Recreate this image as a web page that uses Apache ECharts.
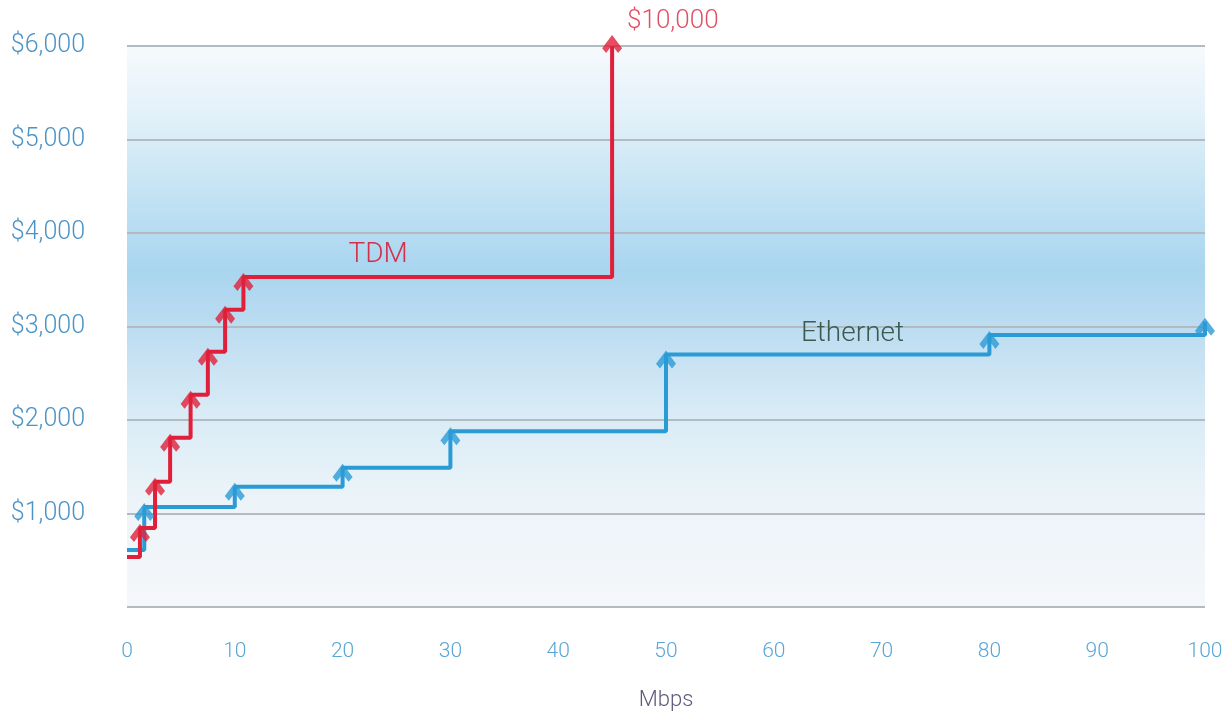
<!DOCTYPE html>
<html>
<head>
<meta charset="utf-8">
<script src="https://cdn.jsdelivr.net/npm/echarts@6/dist/echarts.min.js"></script>
<style>
html,body{margin:0;padding:0;background:#ffffff;}
#chart{width:1229px;height:717px;}
</style>
</head>
<body>
<div id="chart"></div>
<script>
// ---- data ----
const tdmMbps  = [0, 1.2, 2.6, 4.0, 5.9, 7.5, 9.1, 10.8, 45];
const tdmCost  = [535, 845, 1340, 1810, 2270, 2730, 3180, 3530, 6000];
const ethMbps  = [0, 1.6, 10, 20, 30, 50, 80, 100];
const ethCost  = [610, 1070, 1285, 1490, 1880, 2700, 2910, 3050];
const yTicks   = [0, 1000, 2000, 3000, 4000, 5000, 6000];
const xTicks   = [0, 10, 20, 30, 40, 50, 60, 70, 80, 90, 100];
const tdmTopLabel = '$10,000';
const tdmName = 'TDM';
const ethName = 'Ethernet';
const tdmNamePos = [23.3, 3760];
const ethNamePos = [67.3, 2925];

const FONT = 'Roboto, "Liberation Sans", sans-serif';
const RED = '#e0203a';
const BLUE = '#2b9bd6';
const ARROW = 'path://M10,0 L20,11 L16,15 L10,8.5 L4,15 L0,11 Z';

const zip = (xs, ys) => xs.map((x, i) => [x, ys[i]]);
const tdmPts = zip(tdmMbps, tdmCost);
const ethPts = zip(ethMbps, ethCost);
const tdmTop = tdmPts[tdmPts.length - 1];

const chart = echarts.init(document.getElementById('chart'));
chart.setOption({
  animation: false,
  grid: {
    left: 127, right: 24, top: 46, bottom: 110,
    show: true, borderWidth: 0,
    backgroundColor: new echarts.graphic.LinearGradient(0, 0, 0, 1, [
      {offset: 0, color: '#f6fafd'},
      {offset: 0.12, color: '#e3f1f9'},
      {offset: 0.28, color: '#c0e1f3'},
      {offset: 0.40, color: '#a9d5ef'},
      {offset: 0.50, color: '#bcdcf1'},
      {offset: 0.65, color: '#d8ebf6'},
      {offset: 0.82, color: '#edf4f9'},
      {offset: 1, color: '#f5f7f9'}
    ])
  },
  xAxis: {
    type: 'value', min: xTicks[0], max: xTicks[xTicks.length - 1], interval: 10,
    axisLine: {show: false}, axisTick: {show: false}, splitLine: {show: false},
    axisLabel: {color: '#5aa6d6', fontSize: 21, fontFamily: FONT, fontWeight: 300, margin: 34},
    name: 'Mbps', nameLocation: 'middle', nameGap: 82,
    nameTextStyle: {color: '#5c5a7c', fontSize: 22, fontFamily: FONT, fontWeight: 300}
  },
  yAxis: {
    type: 'value', min: yTicks[0], max: yTicks[yTicks.length - 1], interval: 1000,
    axisLine: {show: false}, axisTick: {show: false},
    splitLine: {show: true, lineStyle: {color: '#b3bbc0', width: 2}},
    axisLabel: {
      color: '#4a93c6', fontSize: 25, fontFamily: FONT, fontWeight: 300, margin: 42,
      formatter: v => v === 0 ? '' : '$' + v.toLocaleString('en-US')
    }
  },
  series: [
    {
      type: 'line', step: 'end', data: ethPts, symbol: 'none', clip: false, z: 2,
      lineStyle: {color: BLUE, width: 4}
    },
    {
      type: 'line', step: 'end', symbol: 'none', clip: false, z: 3,
      lineStyle: {color: RED, width: 4},
      data: tdmPts,
      markPoint: {
        symbol: 'circle', symbolSize: 0,
        data: [
          {coord: tdmNamePos, label: {show: true, formatter: tdmName, color: '#d4304c', fontSize: 28, fontFamily: FONT, fontWeight: 300}},
          {coord: ethNamePos, label: {show: true, formatter: ethName, color: '#3b5a50', fontSize: 28, fontFamily: FONT, fontWeight: 300}},
          {coord: tdmTop, label: {show: true, position: 'right', formatter: tdmTopLabel, offset: [10, -25],
            color: '#e05064', fontSize: 26, fontFamily: FONT, fontWeight: 300}}
        ]
      }
    },
    {
      type: 'scatter', data: ethPts.slice(1), symbol: ARROW, symbolSize: [20, 18], symbolOffset: [0, 5],
      itemStyle: {color: BLUE}, z: 4, clip: false, silent: true
    },
    {
      type: 'scatter', data: tdmPts.slice(1).map((p, i, a) => i === a.length - 1 ? {value: p, symbolOffset: [0, -2]} : p),
      symbol: ARROW, symbolSize: [20, 18], symbolOffset: [0, 5],
      itemStyle: {color: RED}, z: 5, clip: false, silent: true
    }
  ]
});
</script>
</body>
</html>
